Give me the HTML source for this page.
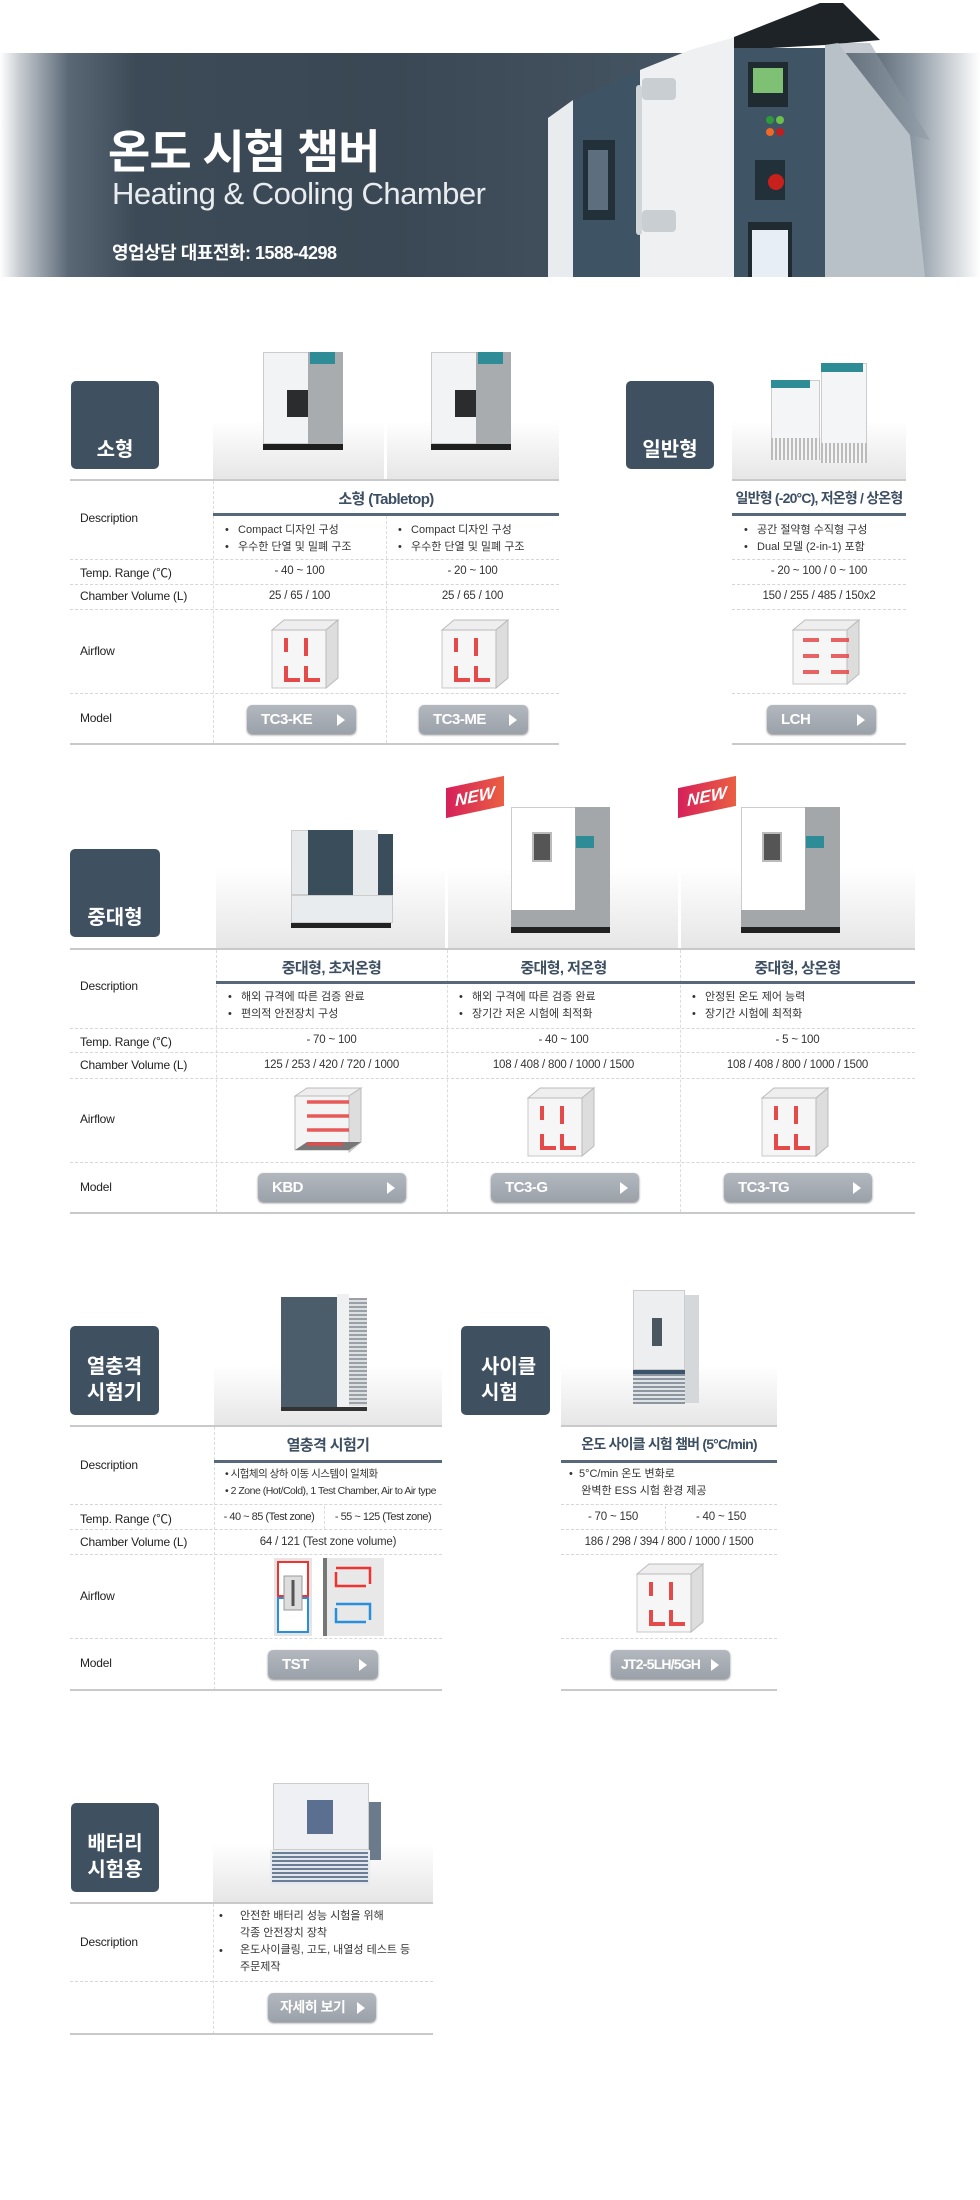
<!DOCTYPE html>
<html><head><meta charset="utf-8">
<style>
*{margin:0;padding:0;box-sizing:border-box}
body{width:980px;height:2200px;background:#fff;position:relative;overflow:hidden;font-family:"Liberation Sans","Noto Sans CJK KR",sans-serif;color:#222}
.a{position:absolute}
.lbl{position:absolute;background:#3f5161;border-radius:5px;color:#fff;font-weight:bold;font-size:20px;line-height:26px;padding-left:0;text-align:center}
.img{position:absolute;background:linear-gradient(#fff 0%,#fff 55%,#e6e6e6 100%)}
.hl{position:absolute;height:2px;background:#c9c9c9}
.dl{position:absolute;height:0;border-top:1px dashed #d6d6d6}
.vl{position:absolute;width:0;border-left:1px dashed #dcdcdc}
.bl{position:absolute;height:3px;background:#56687a}
.rl{position:absolute;font-size:12px;color:#222;white-space:nowrap;letter-spacing:-0.2px}
.hd{position:absolute;font-size:15px;color:#3d4f62;font-weight:bold;text-align:center;white-space:nowrap;letter-spacing:-0.6px}
.v{position:absolute;font-size:11.5px;color:#333;text-align:center;white-space:nowrap;letter-spacing:-0.2px}
.bu{position:absolute;font-size:11px;color:#333;white-space:nowrap;line-height:17px}
.btn{position:absolute;height:29px;border-radius:5px;background:linear-gradient(#b3b8bf,#9ba1a9);color:#fff;font-weight:bold;font-size:15px;line-height:29px;padding-left:14px;box-shadow:0 1px 2px #888;letter-spacing:-0.5px}
.btn:after{content:"";position:absolute;right:11px;top:9px;border-left:8px solid #fff;border-top:6px solid transparent;border-bottom:6px solid transparent}
</style></head><body>

<!-- banner -->
<div class="a" style="left:0;top:53px;width:980px;height:224px;background:linear-gradient(90deg,#fff 0%,#c7ccd1 2%,#5a6876 7%,#3c4a57 14%,#3a4754 40%,#465563 70%,#3e4c59 86%,#8a96a1 93%,#fff 100%)"></div>
<svg class="a" style="left:0;top:0" width="980" height="280">
 <polygon points="548,118 573,100 573,277 548,277" fill="#e9ecef"/>
 <polygon points="573,100 640,70 640,277 573,277" fill="#3e5364"/>
 <rect x="583" y="140" width="32" height="80" fill="#22303a"/><rect x="588" y="150" width="20" height="60" fill="#5d6f7e"/>
 <polygon points="640,70 690,50 735,37 735,277 640,277" fill="#eef0f2"/>
 <rect x="636" y="85" width="6" height="150" rx="3" fill="#d0d5da"/>
 <rect x="642" y="78" width="34" height="22" rx="4" fill="#c9ced3"/><rect x="642" y="210" width="34" height="22" rx="4" fill="#c9ced3"/>
 <polygon points="734,37 820,3 843,3 880,40 825,45 734,50" fill="#1d2327"/>
 <rect x="734" y="48" width="91" height="229" fill="#3f5566"/>
 <rect x="748" y="62" width="40" height="45" fill="#1f2a31"/><rect x="753" y="68" width="30" height="25" fill="#7fc174"/>
 <circle cx="770" cy="120" r="4" fill="#2e9a3c"/><circle cx="780" cy="120" r="4" fill="#6bc04c"/><circle cx="770" cy="132" r="4" fill="#f06a25"/><circle cx="780" cy="132" r="4" fill="#c11e1e"/>
 <rect x="755" y="160" width="30" height="40" fill="#22303a"/><circle cx="776" cy="182" r="8" fill="#c8201c"/>
 <rect x="748" y="222" width="44" height="55" fill="#1f2a31"/><rect x="752" y="230" width="36" height="47" fill="#e8eef6"/>
 <polygon points="825,45 838,43 910,135 925,277 825,277" fill="#b9c1c8"/>
 <polygon points="838,43 870,43 930,140 910,135" fill="#8a959f" opacity=".5"/>
</svg>
<div class="a" style="left:108px;top:116px;font-size:46px;font-weight:bold;color:#fff;letter-spacing:-1px;white-space:nowrap">온도 시험 챔버</div>
<div class="a" style="left:112px;top:176px;font-size:31px;color:#e9ecef;letter-spacing:-0.5px;white-space:nowrap">Heating &amp; Cooling Chamber</div>
<div class="a" style="left:112px;top:239px;font-size:18px;font-weight:bold;color:#fff;white-space:nowrap;letter-spacing:-0.5px">영업상담 대표전화: 1588-4298</div>

<!-- Section 1 -->
<div class="lbl" style="left:71px;top:381px;width:88px;height:88px;padding-top:56px">소형</div>
<div class="lbl" style="left:626px;top:381px;width:88px;height:88px;padding-top:56px">일반형</div>
<div class="img" style="left:213px;top:350px;width:171px;height:129px"></div>
<div class="img" style="left:387px;top:350px;width:172px;height:129px"></div>
<div class="img" style="left:732px;top:350px;width:174px;height:129px"></div>
<div class="a" style="left:263px;top:352px;width:46px;height:92px;background:#f2f3f4;border:1px solid #ccc"></div>
<div class="a" style="left:308px;top:352px;width:35px;height:92px;background:#a9acaf"></div>
<div class="a" style="left:310px;top:352px;width:25px;height:12px;background:#2d8c96"></div>
<div class="a" style="left:287px;top:390px;width:21px;height:27px;background:#2a2c2e"></div>
<div class="a" style="left:263px;top:444px;width:80px;height:6px;background:#1e1e1e"></div>
<div class="a" style="left:431px;top:352px;width:46px;height:92px;background:#f2f3f4;border:1px solid #ccc"></div>
<div class="a" style="left:476px;top:352px;width:35px;height:92px;background:#a9acaf"></div>
<div class="a" style="left:478px;top:352px;width:25px;height:12px;background:#2d8c96"></div>
<div class="a" style="left:455px;top:390px;width:21px;height:27px;background:#2a2c2e"></div>
<div class="a" style="left:431px;top:444px;width:80px;height:6px;background:#1e1e1e"></div>
<div class="a" style="left:771px;top:380px;width:49px;height:80px;background:#f4f5f6;border:1px solid #ccc"></div>
<div class="a" style="left:771px;top:380px;width:39px;height:8px;background:#2d8c96"></div>
<div class="a" style="left:771px;top:438px;width:49px;height:22px;background:repeating-linear-gradient(90deg,#bbb 0 2px,#f4f4f4 2px 4px)"></div>
<div class="a" style="left:821px;top:363px;width:46px;height:100px;background:#f4f5f6;border:1px solid #ccc"></div>
<div class="a" style="left:821px;top:363px;width:42px;height:9px;background:#2d8c96"></div>
<div class="a" style="left:821px;top:443px;width:46px;height:20px;background:repeating-linear-gradient(90deg,#bbb 0 2px,#f4f4f4 2px 4px)"></div>

<div class="hl" style="left:70px;top:479px;width:489px"></div>
<div class="hl" style="left:732px;top:479px;width:174px"></div>
<div class="vl" style="left:213px;top:481px;height:262px"></div>
<div class="vl" style="left:386px;top:516px;height:227px"></div>
<div class="hd" style="left:213px;top:488px;width:346px">소형 (Tabletop)</div>
<div class="hd" style="left:732px;top:488px;width:174px;font-size:14px;letter-spacing:-0.8px">일반형 (-20°C), 저온형 / 상온형</div>
<div class="bl" style="left:213px;top:513px;width:346px"></div>
<div class="bl" style="left:732px;top:513px;width:174px"></div>
<div class="rl" style="left:80px;top:511px">Description</div>
<div class="bu" style="left:225px;top:522px">•&nbsp;&nbsp;&nbsp;Compact 디자인 구성<br>•&nbsp;&nbsp;&nbsp;우수한 단열 및 밀폐 구조</div>
<div class="bu" style="left:398px;top:522px">•&nbsp;&nbsp;&nbsp;Compact 디자인 구성<br>•&nbsp;&nbsp;&nbsp;우수한 단열 및 밀폐 구조</div>
<div class="bu" style="left:744px;top:522px">•&nbsp;&nbsp;&nbsp;공간 절약형 수직형 구성<br>•&nbsp;&nbsp;&nbsp;Dual 모델 (2-in-1) 포함</div>
<div class="dl" style="left:70px;top:559px;width:489px"></div><div class="dl" style="left:732px;top:559px;width:174px"></div>
<div class="rl" style="left:80px;top:564px">Temp. Range (℃)</div>
<div class="v" style="left:213px;top:565px;width:173px">- 40 ~ 100</div>
<div class="v" style="left:386px;top:565px;width:173px">- 20 ~ 100</div>
<div class="v" style="left:732px;top:565px;width:174px">- 20 ~ 100 / 0 ~ 100</div>
<div class="dl" style="left:70px;top:584px;width:489px"></div><div class="dl" style="left:732px;top:584px;width:174px"></div>
<div class="rl" style="left:80px;top:589px">Chamber Volume (L)</div>
<div class="v" style="left:213px;top:590px;width:173px">25 / 65 / 100</div>
<div class="v" style="left:386px;top:590px;width:173px">25 / 65 / 100</div>
<div class="v" style="left:732px;top:590px;width:174px">150 / 255 / 485 / 150x2</div>
<div class="dl" style="left:70px;top:609px;width:489px"></div><div class="dl" style="left:732px;top:609px;width:174px"></div>
<div class="rl" style="left:80px;top:644px">Airflow</div>
<svg class="a" style="left:270px;top:618px" width="70" height="72"><polygon points="2,12 14,2 68,2 56,12" fill="#eee" stroke="#bbb"/><polygon points="56,12 68,2 68,60 56,70" fill="#ddd" stroke="#bbb"/><rect x="2" y="12" width="54" height="58" fill="#f4f4f4" stroke="#bbb" opacity=".8"/><g stroke="#e54a4a" stroke-width="4" fill="none"><path d="M16,20 V34"/><path d="M36,20 V38"/><path d="M16,48 V62 H30"/><path d="M36,48 V62 H50"/></g></svg>
<svg class="a" style="left:440px;top:618px" width="70" height="72"><polygon points="2,12 14,2 68,2 56,12" fill="#eee" stroke="#bbb"/><polygon points="56,12 68,2 68,60 56,70" fill="#ddd" stroke="#bbb"/><rect x="2" y="12" width="54" height="58" fill="#f4f4f4" stroke="#bbb" opacity=".8"/><g stroke="#e54a4a" stroke-width="4" fill="none"><path d="M16,20 V34"/><path d="M36,20 V38"/><path d="M16,48 V62 H30"/><path d="M36,48 V62 H50"/></g></svg>
<svg class="a" style="left:791px;top:618px" width="70" height="68"><polygon points="2,12 14,2 68,2 56,12" fill="#eee" stroke="#bbb"/><polygon points="56,12 68,2 68,56 56,66" fill="#ddd" stroke="#bbb"/><rect x="2" y="12" width="54" height="54" fill="#f4f4f4" stroke="#bbb" opacity=".8"/><g stroke="#e54a4a" stroke-width="4" fill="none" opacity=".85"><path d="M28,22 H12"/><path d="M58,22 H40"/><path d="M28,38 H12"/><path d="M58,38 H40"/><path d="M28,54 H12"/><path d="M58,54 H40"/></g></svg>
<div class="dl" style="left:70px;top:693px;width:489px"></div><div class="dl" style="left:732px;top:693px;width:174px"></div>
<div class="rl" style="left:80px;top:711px">Model</div>
<div class="btn" style="left:247px;top:705px;width:109px">TC3-KE</div>
<div class="btn" style="left:419px;top:705px;width:109px">TC3-ME</div>
<div class="btn" style="left:767px;top:705px;width:109px">LCH</div>
<div class="hl" style="left:70px;top:743px;width:489px"></div>
<div class="hl" style="left:732px;top:743px;width:174px"></div>

<!-- Section 2 -->
<div class="lbl" style="left:70px;top:849px;width:90px;height:88px;padding-top:56px">중대형</div>
<div class="img" style="left:216px;top:770px;width:229px;height:178px"></div>
<div class="img" style="left:448px;top:770px;width:230px;height:178px"></div>
<div class="img" style="left:681px;top:770px;width:234px;height:178px"></div>
<div class="a" style="left:291px;top:830px;width:18px;height:65px;background:#e7eaed;border:1px solid #ccc"></div>
<div class="a" style="left:308px;top:830px;width:45px;height:65px;background:#3a4d5b"></div>
<div class="a" style="left:353px;top:830px;width:25px;height:65px;background:#e7eaed"></div>
<div class="a" style="left:378px;top:834px;width:15px;height:65px;background:#3a4d5b"></div>
<div class="a" style="left:291px;top:895px;width:102px;height:28px;background:#e9ecee;border:1px solid #ccc"></div>
<div class="a" style="left:291px;top:923px;width:100px;height:5px;background:#222"></div>
<div class="a" style="left:446px;top:782px;width:58px;height:30px;background:linear-gradient(90deg,#d6205a,#ea5f42);transform:skewY(-12deg);color:#fff;font-weight:bold;font-size:17px;line-height:30px;text-align:center;font-style:italic">NEW</div>
<div class="a" style="left:678px;top:782px;width:58px;height:30px;background:linear-gradient(90deg,#d6205a,#ea5f42);transform:skewY(-12deg);color:#fff;font-weight:bold;font-size:17px;line-height:30px;text-align:center;font-style:italic">NEW</div>
<div class="a" style="left:511px;top:807px;width:66px;height:105px;background:#fff;border:1px solid #ccc"></div>
<div class="a" style="left:575px;top:807px;width:35px;height:120px;background:#a4a7aa"></div>
<div class="a" style="left:511px;top:910px;width:66px;height:17px;background:#a4a7aa"></div>
<div class="a" style="left:532px;top:832px;width:20px;height:30px;background:#555;border:2px solid #bbb"></div>
<div class="a" style="left:576px;top:836px;width:18px;height:12px;background:#2d8c96"></div>
<div class="a" style="left:511px;top:927px;width:99px;height:6px;background:#222"></div>
<div class="a" style="left:741px;top:807px;width:66px;height:105px;background:#fff;border:1px solid #ccc"></div>
<div class="a" style="left:805px;top:807px;width:35px;height:120px;background:#a4a7aa"></div>
<div class="a" style="left:741px;top:910px;width:66px;height:17px;background:#a4a7aa"></div>
<div class="a" style="left:762px;top:832px;width:20px;height:30px;background:#555;border:2px solid #bbb"></div>
<div class="a" style="left:806px;top:836px;width:18px;height:12px;background:#2d8c96"></div>
<div class="a" style="left:741px;top:927px;width:99px;height:6px;background:#222"></div>

<div class="hl" style="left:70px;top:948px;width:845px"></div>
<div class="vl" style="left:216px;top:950px;height:262px"></div>
<div class="vl" style="left:447px;top:950px;height:262px"></div>
<div class="vl" style="left:680px;top:950px;height:262px"></div>
<div class="hd" style="left:216px;top:957px;width:231px">중대형, 초저온형</div>
<div class="hd" style="left:447px;top:957px;width:233px">중대형, 저온형</div>
<div class="hd" style="left:680px;top:957px;width:235px">중대형, 상온형</div>
<div class="bl" style="left:216px;top:981px;width:699px"></div>
<div class="rl" style="left:80px;top:979px">Description</div>
<div class="bu" style="left:228px;top:989px">•&nbsp;&nbsp;&nbsp;해외 규격에 따른 검증 완료<br>•&nbsp;&nbsp;&nbsp;편의적 안전장치 구성</div>
<div class="bu" style="left:459px;top:989px">•&nbsp;&nbsp;&nbsp;해외 구격에 따른 검증 완료<br>•&nbsp;&nbsp;&nbsp;장기간 저온 시험에 최적화</div>
<div class="bu" style="left:692px;top:989px">•&nbsp;&nbsp;&nbsp;안정된 온도 제어 능력<br>•&nbsp;&nbsp;&nbsp;장기간 시험에 최적화</div>
<div class="dl" style="left:70px;top:1028px;width:845px"></div>
<div class="rl" style="left:80px;top:1033px">Temp. Range (℃)</div>
<div class="v" style="left:216px;top:1034px;width:231px">- 70 ~ 100</div>
<div class="v" style="left:447px;top:1034px;width:233px">- 40 ~ 100</div>
<div class="v" style="left:680px;top:1034px;width:235px">- 5 ~ 100</div>
<div class="dl" style="left:70px;top:1052px;width:845px"></div>
<div class="rl" style="left:80px;top:1058px">Chamber Volume (L)</div>
<div class="v" style="left:216px;top:1059px;width:231px">125 / 253 / 420 / 720 / 1000</div>
<div class="v" style="left:447px;top:1059px;width:233px">108 / 408 / 800 / 1000 / 1500</div>
<div class="v" style="left:680px;top:1059px;width:235px">108 / 408 / 800 / 1000 / 1500</div>
<div class="dl" style="left:70px;top:1078px;width:845px"></div>
<div class="rl" style="left:80px;top:1112px">Airflow</div>
<svg class="a" style="left:293px;top:1086px" width="70" height="72"><polygon points="2,10 14,2 68,2 56,10" fill="#eee" stroke="#bbb"/><polygon points="56,10 68,2 68,56 56,66" fill="#ddd" stroke="#bbb"/><rect x="2" y="10" width="54" height="54" fill="#f4f4f4" stroke="#bbb"/><polygon points="2,64 56,64 68,56 14,56" fill="#777"/><g stroke="#e54a4a" stroke-width="3.5" fill="none" opacity=".9"><path d="M14,16 H56"/><path d="M14,30 H56"/><path d="M14,44 H56"/><path d="M14,58 H50"/></g></svg>
<svg class="a" style="left:526px;top:1086px" width="70" height="72"><polygon points="2,12 14,2 68,2 56,12" fill="#eee" stroke="#bbb"/><polygon points="56,12 68,2 68,60 56,70" fill="#ddd" stroke="#bbb"/><rect x="2" y="12" width="54" height="58" fill="#f4f4f4" stroke="#bbb" opacity=".8"/><g stroke="#e54a4a" stroke-width="4" fill="none"><path d="M16,20 V34"/><path d="M36,20 V38"/><path d="M16,48 V62 H30"/><path d="M36,48 V62 H50"/></g></svg>
<svg class="a" style="left:760px;top:1086px" width="70" height="72"><polygon points="2,12 14,2 68,2 56,12" fill="#eee" stroke="#bbb"/><polygon points="56,12 68,2 68,60 56,70" fill="#ddd" stroke="#bbb"/><rect x="2" y="12" width="54" height="58" fill="#f4f4f4" stroke="#bbb" opacity=".8"/><g stroke="#e54a4a" stroke-width="4" fill="none"><path d="M16,20 V34"/><path d="M36,20 V38"/><path d="M16,48 V62 H30"/><path d="M36,48 V62 H50"/></g></svg>
<div class="dl" style="left:70px;top:1162px;width:845px"></div>
<div class="rl" style="left:80px;top:1180px">Model</div>
<div class="btn" style="left:258px;top:1173px;width:148px">KBD</div>
<div class="btn" style="left:491px;top:1173px;width:148px">TC3-G</div>
<div class="btn" style="left:724px;top:1173px;width:148px">TC3-TG</div>
<div class="hl" style="left:70px;top:1212px;width:845px"></div>

<!-- Section 3 -->
<div class="lbl" style="left:70px;top:1326px;width:89px;height:89px;padding-top:28px">열충격<br>시험기</div>
<div class="lbl" style="left:461px;top:1326px;width:89px;height:89px;padding-top:28px;text-align:left;padding-left:20px">사이클<br>시험</div>
<div class="img" style="left:214px;top:1290px;width:228px;height:136px"></div>
<div class="img" style="left:561px;top:1290px;width:216px;height:136px"></div>
<div class="a" style="left:281px;top:1297px;width:56px;height:110px;background:#4b5d6a"></div>
<div class="a" style="left:337px;top:1294px;width:12px;height:113px;background:#eef0f2"></div>
<div class="a" style="left:349px;top:1298px;width:18px;height:108px;background:repeating-linear-gradient(#9aa0a6 0 2px,#dde0e3 2px 4px)"></div>
<div class="a" style="left:281px;top:1407px;width:86px;height:4px;background:#333"></div>
<div class="a" style="left:633px;top:1290px;width:52px;height:80px;background:#eceeef;border:1px solid #ccc"></div>
<div class="a" style="left:652px;top:1318px;width:10px;height:28px;background:#4a5660"></div>
<div class="a" style="left:633px;top:1370px;width:52px;height:4px;background:#3b536b"></div>
<div class="a" style="left:633px;top:1374px;width:52px;height:30px;background:repeating-linear-gradient(#8b96a0 0 2px,#dfe3e6 2px 4px)"></div>
<div class="a" style="left:685px;top:1295px;width:14px;height:108px;background:#d5d8db"></div>

<div class="hl" style="left:70px;top:1425px;width:372px"></div>
<div class="hl" style="left:561px;top:1425px;width:216px"></div>
<div class="vl" style="left:214px;top:1427px;height:263px"></div>
<div class="vl" style="left:324px;top:1506px;height:23px"></div>
<div class="vl" style="left:665px;top:1506px;height:23px"></div>
<div class="hd" style="left:214px;top:1434px;width:228px">열충격 시험기</div>
<div class="hd" style="left:561px;top:1434px;width:216px;font-size:14px;letter-spacing:-0.8px">온도 사이클 시험 챔버 (5°C/min)</div>
<div class="bl" style="left:214px;top:1460px;width:228px"></div>
<div class="bl" style="left:561px;top:1460px;width:216px"></div>
<div class="rl" style="left:80px;top:1458px">Description</div>
<div class="bu" style="left:225px;top:1466px;font-size:10.5px;letter-spacing:-0.5px">• 시험체의 상하 이동 시스템이 일체화<br>• 2 Zone (Hot/Cold), 1 Test Chamber, Air to Air type</div>
<div class="bu" style="left:569px;top:1466px">•&nbsp;&nbsp;5°C/min 온도 변화로<br>&nbsp;&nbsp;&nbsp;&nbsp;완벽한 ESS 시험 환경 제공</div>
<div class="dl" style="left:70px;top:1504px;width:372px"></div><div class="dl" style="left:561px;top:1504px;width:216px"></div>
<div class="rl" style="left:80px;top:1510px">Temp. Range (℃)</div>
<div class="v" style="left:214px;top:1511px;width:110px;font-size:11px;letter-spacing:-0.5px">- 40 ~ 85 (Test zone)</div>
<div class="v" style="left:324px;top:1511px;width:118px;font-size:11px;letter-spacing:-0.5px">- 55 ~ 125 (Test zone)</div>
<div class="v" style="left:561px;top:1511px;width:104px">- 70 ~ 150</div>
<div class="v" style="left:665px;top:1511px;width:112px">- 40 ~ 150</div>
<div class="dl" style="left:70px;top:1529px;width:372px"></div><div class="dl" style="left:561px;top:1529px;width:216px"></div>
<div class="rl" style="left:80px;top:1535px">Chamber Volume (L)</div>
<div class="v" style="left:214px;top:1536px;width:228px">64 / 121 (Test zone volume)</div>
<div class="v" style="left:561px;top:1536px;width:216px">186 / 298 / 394 / 800 / 1000 / 1500</div>
<div class="dl" style="left:70px;top:1554px;width:372px"></div><div class="dl" style="left:561px;top:1554px;width:216px"></div>
<div class="rl" style="left:80px;top:1589px">Airflow</div>
<svg class="a" style="left:274px;top:1558px" width="110" height="78"><rect x="0" y="0" width="38" height="78" fill="#e5e5e5"/><rect x="4" y="4" width="30" height="34" fill="#fff" stroke="#e33" stroke-width="2"/><rect x="4" y="40" width="30" height="34" fill="#fff" stroke="#2a8fdb" stroke-width="2"/><rect x="10" y="18" width="18" height="34" fill="#ddd" stroke="#999"/><path d="M19,22 V48" stroke="#555" stroke-width="3"/><rect x="50" y="0" width="60" height="78" fill="#e8e8e8"/><rect x="49" y="0" width="4" height="78" fill="#777"/><path d="M62,10 H96 V26 M92,28 H62 V14" stroke="#e33" stroke-width="2.5" fill="none"/><path d="M62,46 H96 V62 M92,64 H62 V50" stroke="#2a8fdb" stroke-width="2.5" fill="none"/></svg>
<svg class="a" style="left:635px;top:1562px" width="70" height="72"><polygon points="2,12 14,2 68,2 56,12" fill="#eee" stroke="#bbb"/><polygon points="56,12 68,2 68,60 56,70" fill="#ddd" stroke="#bbb"/><rect x="2" y="12" width="54" height="58" fill="#f4f4f4" stroke="#bbb" opacity=".8"/><g stroke="#e54a4a" stroke-width="4" fill="none"><path d="M16,20 V34"/><path d="M36,20 V38"/><path d="M16,48 V62 H30"/><path d="M36,48 V62 H50"/></g></svg>
<div class="dl" style="left:70px;top:1638px;width:372px"></div><div class="dl" style="left:561px;top:1638px;width:216px"></div>
<div class="rl" style="left:80px;top:1656px">Model</div>
<div class="btn" style="left:268px;top:1650px;width:110px">TST</div>
<div class="btn" style="left:611px;top:1650px;width:119px;padding-left:10px;font-size:14px;letter-spacing:-0.8px">JT2-5LH/5GH</div>
<div class="hl" style="left:70px;top:1689px;width:372px"></div>
<div class="hl" style="left:561px;top:1689px;width:216px"></div>

<!-- Section 4 -->
<div class="lbl" style="left:71px;top:1803px;width:88px;height:89px;padding-top:28px">배터리<br>시험용</div>
<div class="img" style="left:213px;top:1770px;width:220px;height:132px"></div>
<div class="a" style="left:273px;top:1783px;width:96px;height:67px;background:#eef0f3;border:1px solid #ccc"></div>
<div class="a" style="left:307px;top:1800px;width:26px;height:34px;background:#5b6f90"></div>
<div class="a" style="left:369px;top:1802px;width:12px;height:58px;background:#6b7b8c"></div>
<div class="a" style="left:270px;top:1850px;width:100px;height:36px;background:repeating-linear-gradient(#6a7f97 0 2px,#e3e7eb 2px 4px);border:2px solid #e8ebee"></div>
<div class="hl" style="left:70px;top:1902px;width:363px"></div>
<div class="vl" style="left:213px;top:1904px;height:130px"></div>
<div class="rl" style="left:80px;top:1935px">Description</div>
<div class="bu" style="left:219px;top:1908px">•</div>
<div class="bu" style="left:219px;top:1943px">•</div>
<div class="bu" style="left:240px;top:1908px">안전한 배터리 성능 시험을 위해<br>각종 안전장치 장착<br>온도사이클링, 고도, 내열성 테스트 등<br>주문제작</div>
<div class="dl" style="left:70px;top:1981px;width:363px"></div>
<div class="btn" style="left:268px;top:1993px;width:108px;font-size:14px;padding-left:12px">자세히 보기</div>
<div class="hl" style="left:70px;top:2033px;width:363px"></div>
</body></html>
